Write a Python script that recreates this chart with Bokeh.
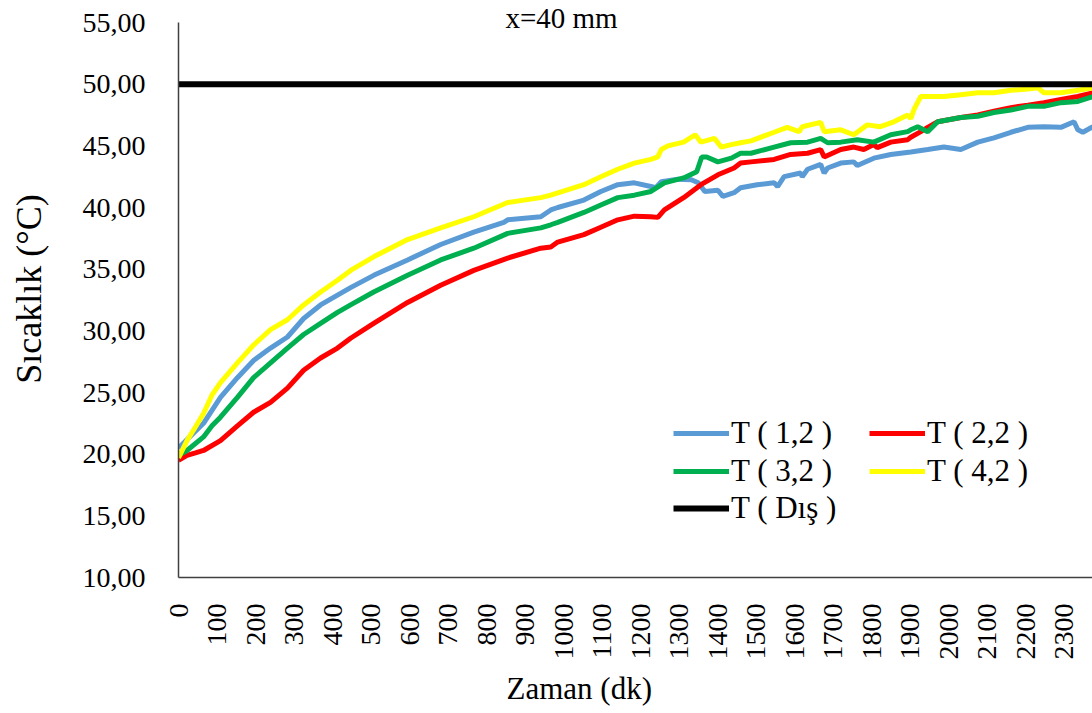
import math
from bokeh.plotting import figure
from bokeh.models import Range1d, FixedTicker, Legend, LegendItem, Label, Title, CustomJSTickFormatter
from bokeh.embed import file_html
from bokeh.resources import INLINE

# ---- data ----
t_12 = [0, 65, 109, 153, 195, 239, 283, 325, 369, 413, 447, 507, 595, 681, 767, 845, 855, 941, 967, 985,
        1053, 1097, 1141, 1184, 1227, 1240, 1254, 1297, 1332, 1350, 1367, 1401, 1414, 1443, 1460, 1503,
        1547, 1556, 1573, 1616, 1620, 1634, 1668, 1677, 1686, 1720, 1754, 1763, 1806, 1850, 1902, 1946,
        1988, 2032, 2076, 2118, 2162, 2206, 2248, 2292, 2326, 2336, 2349, 2375]
T_12 = [20.5, 22.5, 24.6, 26.2, 27.6, 28.6, 29.5, 31.0, 32.1, 32.9, 33.5, 34.5, 35.75, 37.0, 38.0, 38.8, 39.0, 39.25, 39.8, 40.0,
        40.6, 41.3, 41.85, 42.0, 41.7, 41.6, 42.1, 42.3, 42.25, 42.0, 41.3, 41.4, 40.9, 41.2, 41.6, 41.85,
        42.0, 41.7, 42.5, 42.8, 42.5, 43.1, 43.5, 42.8, 43.2, 43.6, 43.7, 43.4, 44.0, 44.3, 44.5, 44.7,
        44.9, 44.7, 45.3, 45.65, 46.1, 46.5, 46.55, 46.5, 46.95, 46.3, 46.1, 46.55]

t_22 = [0, 22, 44, 65, 109, 153, 195, 239, 283, 325, 369, 413, 447, 507, 595, 681, 767, 855, 941, 967, 985,
        1053, 1097, 1141, 1184, 1227, 1245, 1262, 1312, 1357, 1401, 1443, 1460, 1487, 1547, 1590, 1634,
        1668, 1677, 1720, 1754, 1780, 1806, 1815, 1850, 1894, 1902, 1928, 1946, 1972, 2032, 2076, 2118,
        2162, 2206, 2248, 2292, 2336, 2375]
T_22 = [19.5, 19.9, 20.1, 20.3, 21.1, 22.3, 23.4, 24.2, 25.35, 26.8, 27.8, 28.6, 29.4, 30.6, 32.3, 33.7, 34.9, 35.9, 36.7, 36.8, 37.2,
        37.8, 38.4, 39.0, 39.3, 39.25, 39.2, 39.8, 40.8, 41.85, 42.65, 43.2, 43.6, 43.7, 43.9, 44.3, 44.4,
        44.7, 44.1, 44.7, 44.9, 44.7, 45.1, 44.85, 45.3, 45.5, 45.7, 46.15, 46.5, 46.95, 47.3, 47.5, 47.8,
        48.1, 48.3, 48.5, 48.75, 49.0, 49.3]

t_32 = [0, 22, 65, 87, 109, 153, 195, 239, 283, 325, 369, 413, 447, 507, 595, 681, 767, 855, 941, 967, 985,
        1053, 1097, 1141, 1184, 1227, 1262, 1312, 1346, 1359, 1372, 1401, 1436, 1460, 1487, 1547, 1590,
        1634, 1668, 1686, 1720, 1763, 1806, 1850, 1894, 1902, 1920, 1946, 1972, 2032, 2076, 2118, 2162,
        2206, 2248, 2292, 2336, 2375]
T_32 = [19.9, 20.3, 21.4, 22.3, 23.0, 24.6, 26.2, 27.4, 28.6, 29.7, 30.6, 31.5, 32.1, 33.15, 34.5, 35.75, 36.7, 37.9, 38.35, 38.6, 38.8,
        39.6, 40.2, 40.8, 41.0, 41.3, 42.0, 42.4, 42.9, 44.1, 44.1, 43.7, 44.0, 44.4, 44.4, 44.9, 45.25,
        45.3, 45.6, 45.25, 45.3, 45.5, 45.3, 45.9, 46.15, 46.3, 46.55, 46.15, 46.95, 47.3, 47.4, 47.7, 47.9,
        48.2, 48.2, 48.5, 48.6, 49.0]

t_42 = [0, 22, 44, 65, 87, 109, 153, 195, 239, 283, 325, 369, 413, 447, 507, 595, 681, 767, 855, 941, 967,
        1053, 1097, 1141, 1184, 1227, 1245, 1254, 1271, 1312, 1342, 1357, 1392, 1410, 1436, 1460, 1487,
        1547, 1581, 1612, 1620, 1668, 1677, 1720, 1754, 1789, 1823, 1858, 1894, 1902, 1911, 1928, 1988,
        2032, 2076, 2118, 2162, 2206, 2232, 2248, 2292, 2336, 2375]
T_42 = [19.7, 21.1, 22.2, 23.3, 24.8, 25.8, 27.4, 28.85, 30.1, 30.9, 32.1, 33.15, 34.1, 34.9, 36.0, 37.4, 38.35, 39.25, 40.4, 40.8, 41.0,
        41.85, 42.5, 43.1, 43.6, 43.9, 44.1, 44.7, 45.0, 45.3, 45.9, 45.3, 45.6, 44.9, 45.1, 45.25, 45.4,
        46.1, 46.5, 46.15, 46.55, 46.9, 46.15, 46.3, 45.9, 46.7, 46.55, 46.95, 47.5, 47.2, 48.0, 49.0, 49.0,
        49.15, 49.3, 49.3, 49.5, 49.6, 49.7, 49.3, 49.3, 49.5, 49.7]

t_dis = [0, 2375]
T_dis = [50.0, 50.0]

x_ticks = list(range(0, 2400, 100))
y_ticks = [10, 15, 20, 25, 30, 35, 40, 45, 50, 55]

names = ["T ( 1,2 )", "T ( 2,2 )", "T ( 3,2 )", "T ( 4,2 )", "T ( Dış )"]
colors = ["#5B9BD5", "#FF0000", "#00B050", "#FFFF00", "#000000"]

FONT = "Liberation Serif"

# frame reaches the top of the canvas so the title can sit inside it;
# the y axis line itself is bounded to 10..55
p = figure(width=1092, height=713, frame_width=914, frame_height=577,
           output_backend="svg", toolbar_location=None,
           x_range=Range1d(0, 2374), y_range=Range1d(10, 10 + 577 / (555 / 45)),
           min_border_left=178, min_border_right=0, min_border_top=0, min_border_bottom=136)
p.outline_line_color = None
p.background_fill_color = "white"
p.border_fill_color = "white"
p.grid.visible = False

renderers = []
series = [(t_12, T_12), (t_22, T_22), (t_32, T_32), (t_42, T_42), (t_dis, T_dis)]
for (tx, ty), c, n in zip(series, colors, names):
    w = 6 if n == "T ( Dış )" else 5
    r = p.line(tx, ty, line_color=c, line_width=w)
    renderers.append(r)

# axes
p.xaxis.ticker = FixedTicker(ticks=x_ticks)
p.yaxis.ticker = FixedTicker(ticks=y_ticks)
p.yaxis.bounds = (10, 55)
p.yaxis.formatter = CustomJSTickFormatter(code="return tick.toFixed(2).replace('.', ',');")
for ax in (p.xaxis[0], p.yaxis[0]):
    ax.major_tick_line_color = None
    ax.minor_tick_line_color = None
    ax.axis_line_color = "#404040"
    ax.axis_line_width = 1.5
    ax.major_label_text_font = FONT
    ax.major_label_text_font_size = "28px"
    ax.major_label_text_color = "black"
p.xaxis.major_label_orientation = math.pi / 2
p.xaxis.major_label_standoff = 20
p.yaxis.major_label_standoff = 27
p.yaxis.axis_label = "Sıcaklık (°C)"
p.yaxis.axis_label_text_font = FONT
p.yaxis.axis_label_text_font_size = "36px"
p.yaxis.axis_label_text_font_style = "normal"
p.yaxis.axis_label_text_color = "black"
p.yaxis.axis_label_standoff = 31

# x axis title (below the tick labels)
p.add_layout(Title(text="Zaman (dk)", align="left", offset=328, standoff=12,
                   text_font=FONT, text_font_size="31px", text_font_style="normal",
                   text_color="black"), "below")
# chart title inside the top of the frame
p.add_layout(Label(x=383, y=560, x_units="screen", y_units="screen", text="x=40 mm",
                   text_font=FONT, text_font_size="29px", text_color="black",
                   text_align="center", text_baseline="middle"))

# legend: three rows
rows = [[0, 1], [2, 3], [4]]
row_y = [126, 88, 51]
for idx, ry in zip(rows, row_y):
    leg = Legend(items=[LegendItem(label=names[i], renderers=[renderers[i]]) for i in idx],
                 location=(495, ry), orientation="horizontal",
                 background_fill_alpha=0, border_line_color=None,
                 glyph_width=56, glyph_height=36, label_standoff=2, spacing=37,
                 padding=0, margin=0, label_height=36,
                 label_text_font=FONT, label_text_font_size="31px", label_text_color="black")
    p.add_layout(leg)

open("out.html", "w").write(file_html(p, INLINE))
